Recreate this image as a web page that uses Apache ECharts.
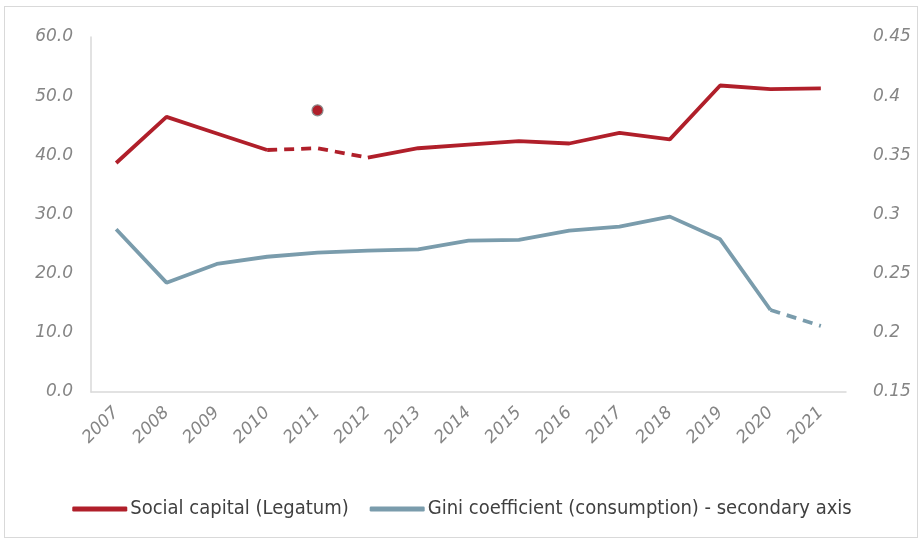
<!DOCTYPE html>
<html><head><meta charset="utf-8">
<script src="https://cdn.jsdelivr.net/npm/echarts@6/dist/echarts.min.js"></script>
<style>
html,body{margin:0;padding:0;background:#fff;}
#frame{position:absolute;left:4px;top:6px;width:912px;height:530px;border:1px solid #d9d9d9;}
#c{position:absolute;left:0;top:0;width:924px;height:540px;}
</style></head>
<body><div id="frame"></div><div id="c"></div>
<script>
const years = ['2007','2008','2009','2010','2011','2012','2013','2014','2015','2016','2017','2018','2019','2020','2021'];
const socialCapital = [38.7, 46.5, 43.7, 40.9, 41.2, 39.6, 41.2, 41.8, 42.4, 42.0, 43.8, 42.7, 51.8, 51.2, 51.3];
const socialDashedFrom = 3, socialDashedTo = 5; // dashed segment 2010-2012
const socialPoint2011 = 47.6;
const gini = [0.2875, 0.2424, 0.2582, 0.2643, 0.2677, 0.2694, 0.2706, 0.2779, 0.2785, 0.2863, 0.2897, 0.2982, 0.2790, 0.2193, 0.2058];
const giniDashedFrom = 13, giniDashedTo = 14;
const leftTicks = {min:0, max:60, interval:10};
const rightTicks = {min:0.15, max:0.45, interval:0.05};

const RED = '#B01F2A', BLUE = '#7A9CAC';
const socialSolidA = socialCapital.map((v,i)=> i<=socialDashedFrom ? v : null);
const socialSolidB = socialCapital.map((v,i)=> i>=socialDashedTo ? v : null);
const socialDashed = socialCapital.map((v,i)=> (i>=socialDashedFrom && i<=socialDashedTo) ? v : null);
const giniSolid = gini.map((v,i)=> i<=giniDashedFrom ? v : null);
const giniDashed = gini.map((v,i)=> (i>=giniDashedFrom && i<=giniDashedTo) ? v : null);
const dot = years.map((y,i)=> y==='2011' ? socialPoint2011 : null);

const labelFont = {fontFamily:'DejaVu Sans, sans-serif', fontStyle:'italic', fontSize:17, color:'#858585'};
const chart = echarts.init(document.getElementById('c'));
const lineBase = {type:'line', showSymbol:false, symbol:'none', smooth:false, connectNulls:false, animation:false};
chart.setOption({
  animation:false,
  grid:{left:91, right:78, top:37, bottom:148, containLabel:false},
  legend:{
    top:494, left:'center', itemWidth:55, itemHeight:5, itemGap:21,
    icon:'roundRect',
    data:['Social capital (Legatum)','Gini coefficient (consumption) - secondary axis'],
    textStyle:{fontFamily:'Liberation Sans Narrow, DejaVu Sans Condensed, sans-serif', fontSize:20, color:'#404040', padding:[0,0,0,-2]}
  },
  xAxis:{type:'category', data:years, boundaryGap:true,
    axisLine:{lineStyle:{color:'#d9d9d9', width:1.5}}, axisTick:{show:false},
    axisLabel:Object.assign({rotate:45, margin:18, interval:0}, labelFont)},
  yAxis:[
    {type:'value', min:leftTicks.min, max:leftTicks.max, interval:leftTicks.interval,
     splitLine:{show:false}, axisLine:{show:true, lineStyle:{color:'#d9d9d9', width:1.5}}, axisTick:{show:false},
     axisLabel:Object.assign({margin:18, formatter:v=>v.toFixed(1)}, labelFont)},
    {type:'value', min:rightTicks.min, max:rightTicks.max, interval:rightTicks.interval,
     splitLine:{show:false}, axisLine:{show:false}, axisTick:{show:false},
     axisLabel:Object.assign({margin:27, formatter:v=>String(parseFloat(v.toFixed(2)))}, labelFont)}
  ],
  series:[
    Object.assign({}, lineBase, {name:'Social capital (Legatum)', data:socialSolidA, yAxisIndex:0, itemStyle:{color:RED}, lineStyle:{color:RED, width:3.8}}),
    Object.assign({}, lineBase, {name:'Social capital (Legatum)', data:socialSolidB, yAxisIndex:0, itemStyle:{color:RED}, lineStyle:{color:RED, width:3.8}}),
    Object.assign({}, lineBase, {name:'Social capital (Legatum)', data:socialDashed, yAxisIndex:0, itemStyle:{color:RED}, lineStyle:{color:RED, width:3.8, type:[10,7]}}),
    Object.assign({}, lineBase, {name:'Gini coefficient (consumption) - secondary axis', data:giniSolid, yAxisIndex:1, itemStyle:{color:BLUE}, lineStyle:{color:BLUE, width:3.8}}),
    Object.assign({}, lineBase, {name:'Gini coefficient (consumption) - secondary axis', data:giniDashed, yAxisIndex:1, itemStyle:{color:BLUE}, lineStyle:{color:BLUE, width:3.8, type:[10,7]}}),
    {type:'scatter', name:'dot', data:dot, yAxisIndex:0, symbolSize:11, itemStyle:{color:RED, opacity:1, borderColor:'#8c8c8c', borderWidth:1.2}, animation:false}
  ]
});
</script></body></html>
